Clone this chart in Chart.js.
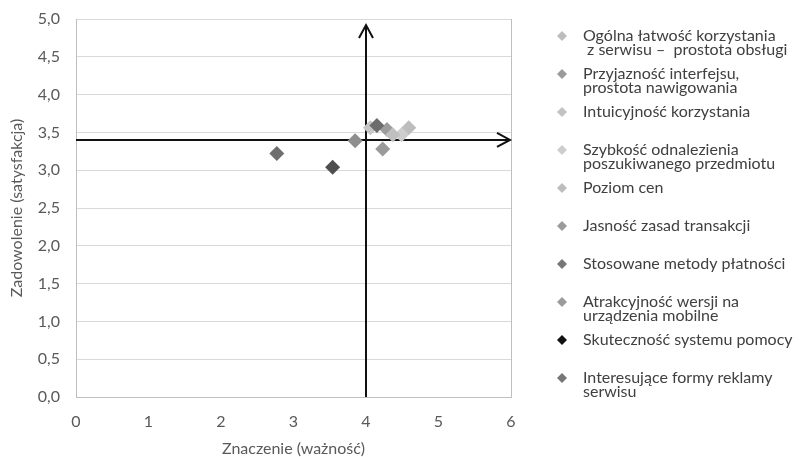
<!DOCTYPE html>
<html>
<head>
<meta charset="utf-8">
<script src="https://cdn.jsdelivr.net/npm/chart.js@4/dist/chart.umd.min.js"></script>
<style>
  html, body { margin: 0; padding: 0; background: #ffffff; }
  #wrap { width: 801px; height: 457px; position: relative; }
</style>
</head>
<body>
<div id="wrap"><canvas id="chart"></canvas></div>
<script>
// Factors of the online store: importance (x) vs. satisfaction (y)
const seriesNames = [
  'Ogólna łatwość korzystania\n z serwisu –  prostota obsługi',
  'Przyjazność interfejsu,\nprostota nawigowania',
  'Intuicyjność korzystania',
  'Szybkość odnalezienia\nposzukiwanego przedmiotu',
  'Poziom cen',
  'Jasność zasad transakcji',
  'Stosowane metody płatności',
  'Atrakcyjność wersji na\nurządzenia mobilne',
  'Skuteczność systemu pomocy',
  'Interesujące formy reklamy\nserwisu'
];
const importance   = [4.59, 4.29, 4.06, 4.49, 4.37, 4.23, 4.15, 3.85, 3.54, 2.77];
const satisfaction = [3.56, 3.54, 3.56, 3.47, 3.47, 3.28, 3.59, 3.39, 3.04, 3.22];

const markerColors = ['#bdbdbd', '#9b9b9b', '#c6c6c6', '#cdcdcd', '#c0c0c0',
                      '#9b9b9b', '#6c6c6c', '#8e8e8e', '#4f4f4f', '#6f6f6f'];
const legendColors = ['#bdbdbd', '#9b9b9b', '#c2c2c2', '#cdcdcd', '#bdbdbd',
                      '#9b9b9b', '#777777', '#9b9b9b', '#111111', '#777777'];

const xTickValues = [0, 1, 2, 3, 4, 5, 6];
const xTickLabels = ['0', '1', '2', '3', '4', '5', '6'];
const yTickValues = [0, 0.5, 1, 1.5, 2, 2.5, 3, 3.5, 4, 4.5, 5];
const yTickLabels = ['0,0', '0,5', '1,0', '1,5', '2,0', '2,5', '3,0', '3,5', '4,0', '4,5', '5,0'];

// Quadrant split: average importance / average satisfaction
const refImportance = 4.0;
const refSatisfaction = 3.4;
const refTopSatisfaction = 4.92;

const FONT = 'Lato, "Open Sans", "DejaVu Sans", sans-serif';
const TEXT_SIZE = 16;
const TICK_COLOR = '#595959';

function drawArrowHead(ctx, x, y, dx, dy, len, half) {
  // open chevron pointing in direction (dx, dy)
  const px = -dy, py = dx;
  ctx.beginPath();
  ctx.moveTo(x - dx * len + px * half, y - dy * len + py * half);
  ctx.lineTo(x, y);
  ctx.lineTo(x - dx * len - px * half, y - dy * len - py * half);
  ctx.stroke();
}

const quadrantAxes = {
  id: 'quadrantAxes',
  beforeDatasetsDraw(chart) {
    const { ctx, chartArea, scales } = chart;
    const xs = scales.x, ys = scales.y;
    ctx.save();
    // right frame edge
    ctx.strokeStyle = '#bfbfbf';
    ctx.lineWidth = 1;
    ctx.beginPath();
    ctx.moveTo(Math.round(chartArea.right) + 0.5, chartArea.top);
    ctx.lineTo(Math.round(chartArea.right) + 0.5, chartArea.bottom);
    ctx.stroke();

    ctx.strokeStyle = '#111111';
    ctx.lineWidth = 2;
    ctx.lineCap = 'butt';
    ctx.lineJoin = 'miter';
    // horizontal reference arrow
    const hy = ys.getPixelForValue(refSatisfaction);
    const hx0 = xs.getPixelForValue(0);
    const hx1 = xs.getPixelForValue(6) - 1;
    ctx.beginPath();
    ctx.moveTo(hx0, hy);
    ctx.lineTo(hx1, hy);
    ctx.stroke();
    drawArrowHead(ctx, hx1, hy, 1, 0, 13, 7);
    // vertical reference arrow
    const vx = xs.getPixelForValue(refImportance);
    const vy0 = ys.getPixelForValue(0);
    const vy1 = ys.getPixelForValue(refTopSatisfaction);
    ctx.beginPath();
    ctx.moveTo(vx, vy0);
    ctx.lineTo(vx, vy1);
    ctx.stroke();
    drawArrowHead(ctx, vx, vy1, 0, -1, 13, 7);
    ctx.restore();
  }
};

const sideLegend = {
  id: 'sideLegend',
  afterDraw(chart) {
    const { ctx } = chart;
    const markerX = 562, textX = 583, top = 36, step = 38, lineGap = 14;
    ctx.save();
    ctx.font = TEXT_SIZE + 'px ' + FONT;
    ctx.textBaseline = 'middle';
    ctx.textAlign = 'left';
    seriesNames.forEach((name, i) => {
      const y = top + i * step;
      const r = 5;
      ctx.fillStyle = legendColors[i];
      ctx.beginPath();
      ctx.moveTo(markerX, y - r);
      ctx.lineTo(markerX + r, y);
      ctx.lineTo(markerX, y + r);
      ctx.lineTo(markerX - r, y);
      ctx.closePath();
      ctx.fill();
      ctx.fillStyle = '#404040';
      name.split('\n').forEach((line, k) => {
        ctx.fillText(line, textX, y + k * lineGap);
      });
    });
    ctx.restore();
  }
};

const datasets = seriesNames.map((name, i) => ({
  label: name,
  data: [{ x: importance[i], y: satisfaction[i] }],
  pointStyle: 'rectRot',
  pointRadius: 7.5,
  pointHoverRadius: 7.5,
  pointBackgroundColor: markerColors[i],
  pointBorderWidth: 0,
  pointBorderColor: markerColors[i],
  order: seriesNames.length - i
}));

new Chart(document.getElementById('chart'), {
  type: 'scatter',
  data: { datasets },
  plugins: [quadrantAxes, sideLegend],
  options: {
    responsive: true,
    maintainAspectRatio: false,
    animation: false,
    events: [],
    layout: { padding: { left: 0, top: 19, right: 290, bottom: 0 } },
    plugins: { legend: { display: false }, tooltip: { enabled: false } },
    scales: {
      x: {
        type: 'linear',
        min: 0, max: 6,
        afterFit(scale) { scale.height = 60; },
        afterBuildTicks(scale) { scale.ticks = xTickValues.map(v => ({ value: v })); },
        ticks: {
          color: TICK_COLOR,
          font: { family: FONT, size: TEXT_SIZE },
          padding: 15,
          maxRotation: 0,
          callback: (v, idx) => xTickLabels[idx]
        },
        grid: { display: false, drawTicks: false },
        border: { display: true, color: '#bfbfbf', width: 1 },
        title: {
          display: true,
          text: 'Znaczenie (ważność)',
          color: TICK_COLOR,
          font: { family: FONT, size: TEXT_SIZE },
          padding: { top: 0, bottom: -1.5 }
        }
      },
      y: {
        type: 'linear',
        min: 0, max: 5,
        afterFit(scale) {
          scale.width = 76;
          scale.paddingTop = 0;
          scale.paddingBottom = 0;
        },
        afterBuildTicks(scale) { scale.ticks = yTickValues.map(v => ({ value: v })); },
        ticks: {
          color: TICK_COLOR,
          font: { family: FONT, size: TEXT_SIZE },
          padding: 16,
          callback: (v, idx) => yTickLabels[idx]
        },
        grid: { color: '#d9d9d9', lineWidth: 1, drawTicks: false },
        border: { display: true, color: '#bfbfbf', width: 1 },
        title: {
          display: true,
          text: 'Zadowolenie (satysfakcja)',
          color: TICK_COLOR,
          font: { family: FONT, size: TEXT_SIZE },
          padding: { top: 7.4, bottom: 0 }
        }
      }
    }
  }
});
</script>
</body>
</html>
